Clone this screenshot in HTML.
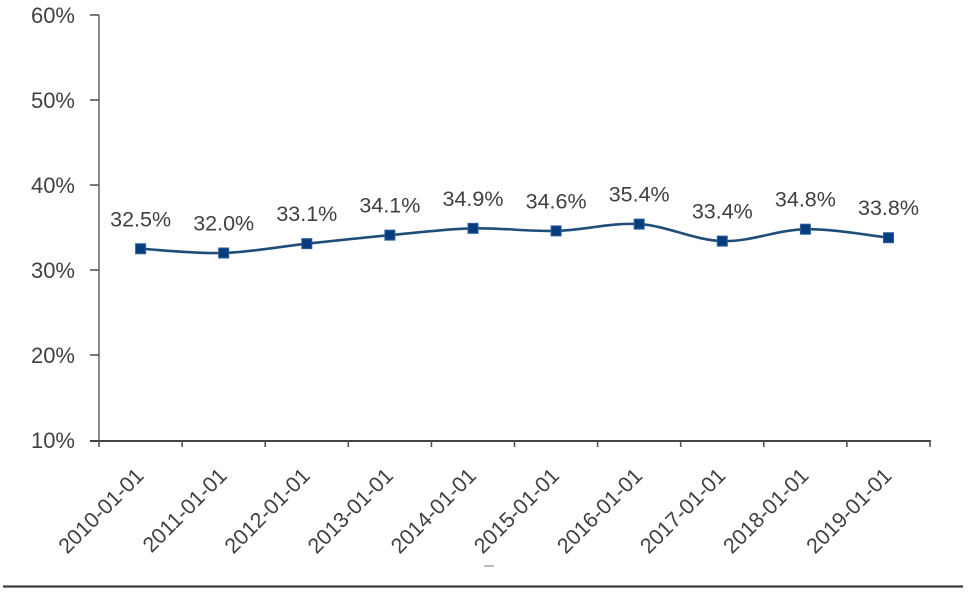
<!DOCTYPE html>
<html>
<head>
<meta charset="utf-8">
<style>
html,body{margin:0;padding:0;background:#fff;}
svg{display:block;}
text{font-family:"Liberation Sans",sans-serif;fill:#404040;}
</style>
</head>
<body>
<svg width="978" height="600" viewBox="0 0 978 600" xmlns="http://www.w3.org/2000/svg">
<rect width="978" height="600" fill="#fff"/>
<!-- Y axis -->
<line x1="99" y1="15" x2="99" y2="441" stroke="#8a8a8a" stroke-width="2"/>
<g stroke="#555" stroke-width="1.6">
<line x1="90" y1="15" x2="99" y2="15"/>
<line x1="90" y1="100" x2="99" y2="100"/>
<line x1="90" y1="185" x2="99" y2="185"/>
<line x1="90" y1="270" x2="99" y2="270"/>
<line x1="90" y1="355" x2="99" y2="355"/>
</g>
<!-- X axis -->
<line x1="90" y1="441" x2="931" y2="441" stroke="#444" stroke-width="2"/>
<g stroke="#555" stroke-width="1.6">
<line x1="99" y1="441" x2="99" y2="447"/>
<line x1="182.1" y1="441" x2="182.1" y2="447"/>
<line x1="265.2" y1="441" x2="265.2" y2="447"/>
<line x1="348.3" y1="441" x2="348.3" y2="447"/>
<line x1="431.4" y1="441" x2="431.4" y2="447"/>
<line x1="514.5" y1="441" x2="514.5" y2="447"/>
<line x1="597.6" y1="441" x2="597.6" y2="447"/>
<line x1="680.7" y1="441" x2="680.7" y2="447"/>
<line x1="763.8" y1="441" x2="763.8" y2="447"/>
<line x1="846.9" y1="441" x2="846.9" y2="447"/>
<line x1="930" y1="441" x2="930" y2="447"/>
</g>
<!-- Y labels -->
<g font-size="22" text-anchor="end">
<text x="75" y="23">60%</text>
<text x="75" y="108">50%</text>
<text x="75" y="193">40%</text>
<text x="75" y="278">30%</text>
<text x="75" y="363">20%</text>
<text x="75" y="448">10%</text>
</g>
<!-- X labels -->
<g font-size="21.5" text-anchor="end">
<text transform="translate(145,477) rotate(-45)">2010-01-01</text>
<text transform="translate(228.1,477) rotate(-45)">2011-01-01</text>
<text transform="translate(311.2,477) rotate(-45)">2012-01-01</text>
<text transform="translate(394.3,477) rotate(-45)">2013-01-01</text>
<text transform="translate(477.4,477) rotate(-45)">2014-01-01</text>
<text transform="translate(560.5,477) rotate(-45)">2015-01-01</text>
<text transform="translate(643.6,477) rotate(-45)">2016-01-01</text>
<text transform="translate(726.7,477) rotate(-45)">2017-01-01</text>
<text transform="translate(809.8,477) rotate(-45)">2018-01-01</text>
<text transform="translate(892.9,477) rotate(-45)">2019-01-01</text>
</g>
<!-- Series line -->
<path d="M140.6,248.75 C154.45,249.46 196.0,253.85 223.7,253.0 C251.4,252.15 279.1,246.63 306.8,243.65 C334.5,240.68 362.2,237.7 389.9,235.15 C417.6,232.6 445.3,229.06 473.0,228.35 C500.7,227.64 528.4,231.61 556.1,230.9 C583.8,230.19 611.5,222.4 639.2,224.1 C666.9,225.8 694.6,240.25 722.3,241.1 C750.0,241.95 777.7,229.77 805.4,229.2 C833.1,228.63 874.65,236.28 888.5,237.7" fill="none" stroke="#1f4e79" stroke-width="2.6"/>
<!-- Markers -->
<g fill="#053d7c" stroke="#2c5f9e" stroke-width="1">
<rect x="135.6" y="243.75" width="10" height="10"/>
<rect x="218.7" y="248.0" width="10" height="10"/>
<rect x="301.8" y="238.65" width="10" height="10"/>
<rect x="384.9" y="230.15" width="10" height="10"/>
<rect x="468.0" y="223.35" width="10" height="10"/>
<rect x="551.1" y="225.9" width="10" height="10"/>
<rect x="634.2" y="219.1" width="10" height="10"/>
<rect x="717.3" y="236.1" width="10" height="10"/>
<rect x="800.4" y="224.2" width="10" height="10"/>
<rect x="883.5" y="232.7" width="10" height="10"/>
</g>
<!-- Data labels -->
<g font-size="21.5" text-anchor="middle">
<text x="140.6" y="226.3">32.5%</text>
<text x="223.7" y="230.5">32.0%</text>
<text x="306.8" y="221.2">33.1%</text>
<text x="389.9" y="212.7">34.1%</text>
<text x="473.0" y="205.9">34.9%</text>
<text x="556.1" y="208.4">34.6%</text>
<text x="639.2" y="201.6">35.4%</text>
<text x="722.3" y="218.6">33.4%</text>
<text x="805.4" y="206.7">34.8%</text>
<text x="888.5" y="215.2">33.8%</text>
</g>
<!-- small artifact -->
<line x1="484" y1="566" x2="494" y2="566" stroke="#bbb" stroke-width="2"/>
<!-- bottom rule -->
<line x1="3" y1="586.5" x2="963" y2="586.5" stroke="#3c3c3c" stroke-width="2.2"/>
</svg>
</body>
</html>
